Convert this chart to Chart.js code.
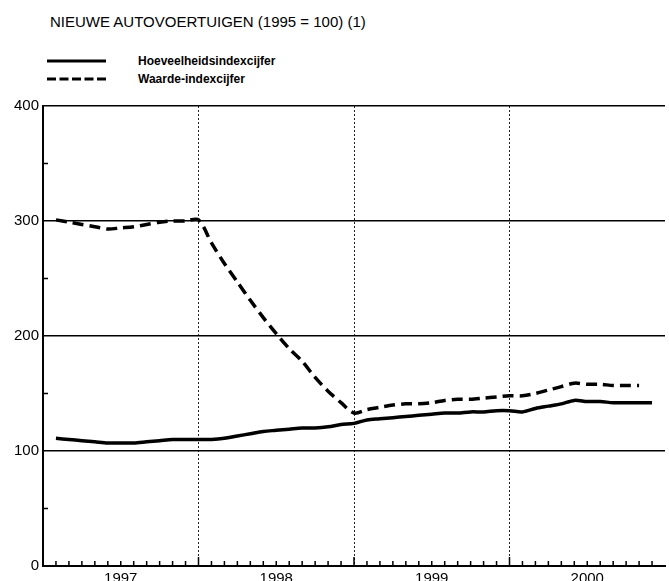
<!DOCTYPE html>
<html>
<head>
<meta charset="utf-8">
<title>Nieuwe autovoertuigen</title>
<script src="https://cdn.jsdelivr.net/npm/chart.js"></script>
<style>
body { margin:0; background:#fff; overflow:hidden; font-family:"Liberation Sans", Arial, sans-serif; }
#wrap { position:relative; width:669px; height:581px; overflow:hidden; }
#titel { position:absolute; left:50px; top:13px; font-size:15px; line-height:18px; white-space:nowrap; }
.leg { position:absolute; left:47px; width:300px; height:16px; font-size:12px; font-weight:bold; line-height:16px; }
.leg svg { position:absolute; left:0; top:5px; }
.leg span { position:absolute; left:91px; white-space:nowrap; }
canvas { position:absolute; left:0; top:0; }
</style>
</head>
<body>
<div id="wrap">
  <div id="titel">NIEUWE AUTOVOERTUIGEN (1995 = 100) (1)</div>
  <div class="leg" style="top:53px">
    <svg width="60" height="6"><line x1="0" y1="3" x2="59" y2="3" stroke="#000" stroke-width="3"/></svg>
    <span>Hoeveelheidsindexcijfer</span>
  </div>
  <div class="leg" style="top:71px">
    <svg width="60" height="6"><line x1="0" y1="3" x2="59" y2="3" stroke="#000" stroke-width="3" stroke-dasharray="9,3.5"/></svg>
    <span>Waarde-indexcijfer</span>
  </div>
  <canvas id="grafiek" width="669" height="600"></canvas>
</div>
<script>
// jaren op de x-as, maandcijfers jan 1997 t/m nov 2000
var jaren = ['1997', '1998', '1999', '2000'];
var hoeveelheid = [111, 110, 109, 108, 107, 107, 107, 108, 109, 110, 110, 110,
                   110, 111, 113, 115, 117, 118, 119, 120, 120, 121, 123, 124,
                   127, 128, 129, 130, 131, 132, 133, 133, 134, 134, 135, 135,
                   134, 137, 139, 141, 144, 143, 143, 142, 142, 142, 142];
var waarde = [301, 299, 297, 295, 293, 294, 295, 297, 299, 300, 300, 301,
              281, 263, 247, 231, 216, 202, 189, 178, 164, 152, 142, 133,
              136, 138, 140, 141, 141, 142, 144, 145, 145, 146, 147, 148,
              148, 150, 153, 156, 159, 158, 158, 157, 157, 157];
var yWaarden = [0, 100, 200, 300, 400];

function punten(reeks) {
    // punt aan het eind van elke maand
    return reeks.map(function (v, i) { return { x: i + 1, y: v }; });
}

// kleine streepjes langs de assen (maanden en halve honderdtallen)
var streepjes = {
    id: 'streepjes',
    afterDraw: function (chart) {
        var ctx = chart.ctx, sx = chart.scales.x, sy = chart.scales.y;
        var onder = chart.chartArea.bottom, links = chart.chartArea.left;
        ctx.save();
        ctx.strokeStyle = '#000';
        ctx.lineWidth = 1.5;
        ctx.beginPath();
        for (var m = 1; m < jaren.length * 12; m++) {
            var px = sx.getPixelForValue(m);
            var len = m % 12 === 0 ? 9 : 5;
            ctx.moveTo(px, onder);
            ctx.lineTo(px, onder - len);
        }
        for (var i = 0; i < yWaarden.length - 1; i++) {
            var py = sy.getPixelForValue((yWaarden[i] + yWaarden[i + 1]) / 2);
            ctx.moveTo(links, py);
            ctx.lineTo(links + 5, py);
        }
        ctx.stroke();
        ctx.restore();
    }
};

Chart.defaults.font.family = '"Liberation Sans", Arial, sans-serif';
Chart.defaults.color = '#000';

var ctx = document.getElementById('grafiek').getContext('2d');
var myChart = new Chart(ctx, {
    type: 'line',
    data: {
        datasets: [{
            label: 'Hoeveelheidsindexcijfer',
            data: punten(hoeveelheid),
            borderColor: '#000',
            borderWidth: 3.5,
            pointRadius: 0,
            tension: 0.3
        }, {
            label: 'Waarde-indexcijfer',
            data: punten(waarde),
            borderColor: '#000',
            borderWidth: 3.5,
            borderDash: [11, 6],
            pointRadius: 0,
            tension: 0.3
        }]
    },
    options: {
        responsive: false,
        animation: false,
        layout: {
            padding: { top: 106, right: 1, bottom: 8, left: 0 }
        },
        plugins: {
            legend: { display: false },
            tooltip: { enabled: false }
        },
        scales: {
            x: {
                type: 'linear',
                min: 0,
                max: jaren.length * 12,
                ticks: {
                    stepSize: 1,
                    maxTicksLimit: 100,
                    autoSkip: false,
                    maxRotation: 0,
                    padding: 4,
                    font: { size: 15 },
                    callback: function (v) {
                        return v % 12 === 6 ? jaren[(v - 6) / 12] : '';
                    }
                },
                grid: {
                    drawTicks: false,
                    lineWidth: 1,
                    color: function (c) {
                        var v = c.tick ? c.tick.value : 0;
                        return (v % 12 === 0 && v > 0 && v < jaren.length * 12) ? '#222' : 'transparent';
                    }
                },
                border: { color: '#000', width: 2, dash: [2, 2] }
            },
            y: {
                min: yWaarden[0],
                max: yWaarden[yWaarden.length - 1],
                afterFit: function (s) { s.width = 43; },
                ticks: {
                    stepSize: 100,
                    padding: 4,
                    font: { size: 15 }
                },
                grid: {
                    drawTicks: false,
                    color: '#000',
                    lineWidth: 1.5
                },
                border: { color: '#000', width: 2 }
            }
        }
    },
    plugins: [streepjes]
});
</script>
</body>
</html>
